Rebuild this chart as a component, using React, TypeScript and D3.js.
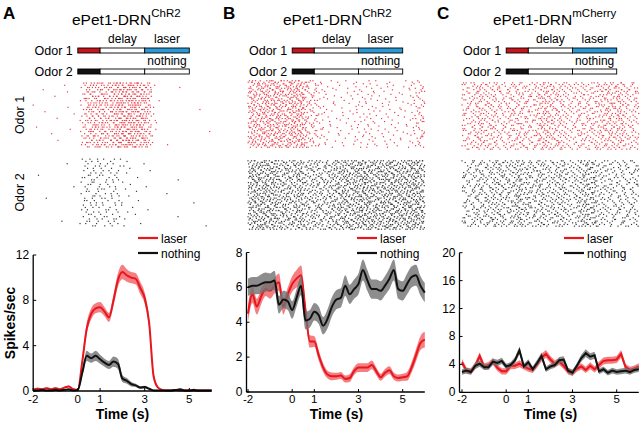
import React from "react";
import * as d3 from "d3";

// ---------- data (time in s, rates in spikes/sec) ----------
const TIME = d3.range(41).map((i) => -2 + i * 0.2);
const X_TICKS = [-2, 0, 1, 3, 5];
const Y_TICKS_A = [0, 4, 8, 12];
const Y_TICKS_B = [0, 2, 4, 6, 8];
const Y_TICKS_C = [0, 4, 8, 12, 16, 20];
const LEGEND = ["laser", "nothing"];
const ODORS = ["Odor 1", "Odor 2"];
const EPOCHS = ["delay", "laser", "nothing"];

const LASER_A = [0.1, 0.2, 0.15, 0.25, 0.15, 0.25, 0.15, 0.3, 0.4, 0.15,
  0.1, 2.6, 5.5, 6.8, 7.3, 7.4, 7.0, 6.5, 8.0, 9.8,
  10.5, 10.2, 10.0, 9.9, 9.1, 8.2, 6.0, 1.3, 0.3, 0.1,
  0.05, 0.05, 0.08, 0.05, 0.05, 0.05, 0.05, 0.05, 0.05, 0.05, 0.05];
const LASER_SEM_A = [0.08, 0.08, 0.08, 0.08, 0.08, 0.08, 0.08, 0.08, 0.08, 0.08,
  0.1, 0.4, 0.5, 0.5, 0.45, 0.45, 0.4, 0.4, 0.5, 0.6,
  0.65, 0.55, 0.5, 0.5, 0.55, 0.5, 0.45, 0.3, 0.1, 0.05,
  0.05, 0.05, 0.05, 0.05, 0.05, 0.05, 0.05, 0.05, 0.05, 0.05, 0.05];
const NOTHING_A = [0.05, 0.05, 0.1, 0.05, 0.05, 0.1, 0.05, 0.1, 0.15, 0.05,
  0.1, 1.6, 3.1, 2.9, 3.1, 2.8, 2.5, 2.3, 2.6, 2.4,
  1.1, 0.9, 0.6, 0.5, 0.3, 0.35, 0.2, 0.05, 0.05, 0.05,
  0.05, 0.05, 0.1, 0.15, 0.05, 0.05, 0.1, 0.05, 0.05, 0.05, 0.05];
const NOTHING_SEM_A = [0.05, 0.05, 0.05, 0.05, 0.05, 0.05, 0.05, 0.05, 0.05, 0.05,
  0.05, 0.3, 0.45, 0.4, 0.45, 0.4, 0.35, 0.35, 0.45, 0.45,
  0.3, 0.25, 0.2, 0.15, 0.12, 0.12, 0.08, 0.05, 0.05, 0.05,
  0.05, 0.05, 0.05, 0.05, 0.05, 0.05, 0.05, 0.05, 0.05, 0.05, 0.05];

const LASER_B = [4.5, 5.6, 4.9, 5.5, 5.9, 5.8, 6.1, 6.3, 4.9, 5.6,
  6.2, 6.5, 6.7, 4.7, 2.9, 2.9, 2.1, 1.4, 1.0, 0.9,
  0.9, 0.95, 0.75, 0.8, 1.2, 1.4, 1.4, 1.4, 1.55, 1.2,
  0.85, 1.1, 1.25, 0.9, 0.8, 0.85, 0.9, 1.4, 2.1, 2.8, 3.0];
const LASER_SEM_B = [0.5, 0.5, 0.45, 0.45, 0.4, 0.45, 0.45, 0.5, 0.45, 0.4,
  0.45, 0.5, 0.55, 0.45, 0.35, 0.3, 0.3, 0.25, 0.22, 0.22,
  0.2, 0.2, 0.2, 0.22, 0.22, 0.25, 0.25, 0.25, 0.25, 0.22,
  0.2, 0.22, 0.22, 0.2, 0.2, 0.2, 0.25, 0.3, 0.35, 0.4, 0.45];
const NOTHING_B = [6.0, 6.1, 6.1, 6.2, 6.3, 6.3, 6.4, 5.0, 5.3, 5.2,
  4.7, 5.4, 6.1, 4.1, 4.2, 4.6, 4.4, 3.8, 4.2, 4.9,
  5.3, 5.4, 6.1, 5.6, 5.9, 6.2, 7.0, 6.4, 5.9, 5.9,
  5.8, 6.1, 6.5, 7.0, 5.9, 5.8, 6.2, 6.6, 6.7, 6.1, 5.7];
const NOTHING_SEM_B = [0.5, 0.5, 0.5, 0.55, 0.55, 0.5, 0.55, 0.5, 0.5, 0.5,
  0.5, 0.5, 0.55, 0.5, 0.5, 0.5, 0.5, 0.5, 0.55, 0.55,
  0.55, 0.55, 0.6, 0.55, 0.55, 0.6, 0.6, 0.6, 0.55, 0.55,
  0.55, 0.55, 0.6, 0.6, 0.55, 0.55, 0.6, 0.6, 0.6, 0.55, 0.55];

const LASER_C = [4.3, 3.1, 3.0, 3.8, 5.2, 3.7, 3.9, 4.4, 3.5, 3.0,
  3.0, 3.8, 3.8, 4.1, 3.7, 3.4, 3.2, 4.0, 5.0, 5.5,
  4.7, 4.1, 4.4, 3.8, 3.0, 2.8, 3.4, 3.7, 3.2, 3.8,
  3.3, 3.9, 4.5, 4.6, 4.6, 4.7, 5.5, 3.6, 3.2, 3.4, 3.7];
const LASER_SEM_C = [0.5, 0.45, 0.45, 0.5, 0.55, 0.45, 0.45, 0.5, 0.45, 0.45,
  0.45, 0.5, 0.45, 0.5, 0.45, 0.45, 0.45, 0.5, 0.55, 0.55,
  0.5, 0.5, 0.5, 0.45, 0.45, 0.45, 0.45, 0.45, 0.45, 0.5,
  0.45, 0.5, 0.5, 0.5, 0.5, 0.5, 0.55, 0.45, 0.45, 0.45, 0.45];
const NOTHING_C = [2.9, 3.1, 2.9, 3.8, 4.1, 3.6, 3.6, 4.4, 4.2, 4.5,
  3.7, 3.9, 4.6, 6.0, 3.7, 4.3, 3.3, 4.2, 5.2, 3.3,
  3.7, 3.9, 4.6, 4.7, 3.1, 2.8, 3.8, 4.9, 5.6, 5.1,
  5.3, 3.0, 3.3, 2.8, 3.1, 2.9, 3.0, 3.1, 2.9, 3.2, 3.3];
const NOTHING_SEM_C = [0.4, 0.4, 0.4, 0.45, 0.45, 0.4, 0.4, 0.45, 0.45, 0.45,
  0.4, 0.4, 0.45, 0.55, 0.4, 0.45, 0.4, 0.45, 0.5, 0.4,
  0.4, 0.4, 0.45, 0.45, 0.4, 0.4, 0.4, 0.5, 0.55, 0.5,
  0.5, 0.4, 0.4, 0.4, 0.4, 0.4, 0.4, 0.4, 0.4, 0.4, 0.4];

// ---------- styling ----------
const FONT = "'Liberation Sans', Arial, Helvetica, sans-serif";
const RED = "#e8161d";
const RED_BAND = "#f2676c";
const GRAY_BAND = "#707070";
const BLACK = "#111111";
const ODOR_RED = "#c8141c";
const LASER_BLUE = "#2b9ad6";
const DOT_RED = "#e5404a";
const DOT_BLACK = "#3a3a3a";

type PanelCfg = {
  letter: string;
  letterX: number;
  sup: string;
  titleX: number;
  xr: [number, number];
  axisX: number;
  yMax: number;
  yr: [number, number];
  yTicks: number[];
  laser: number[];
  laserSem: number[];
  nothing: number[];
  nothingSem: number[];
  nTrials: number;
  raster1: [number, number];
  raster2: [number, number];
  legendX: number;
  linear: boolean;
  yLabel: boolean;
  odorSide: boolean;
};

// Halton low-discrepancy sequence (deterministic, evenly spread)
function halton(index: number, base: number) {
  let f = 1, r = 0, i = index;
  while (i > 0) {
    f /= base;
    r += f * (i % base);
    i = Math.floor(i / base);
  }
  return r;
}

// Spike rasters: dots spread evenly over the trials, with density set by the PSTH rate read above
function makeRaster(rates: number[], nTrials: number, seed: number) {
  const dt = 0.2;
  const dots: { t: number; row: number }[] = [];
  let acc = 0.5;
  let idx = 1 + seed;
  rates.forEach((r, i) => {
    acc += r * dt * nTrials;
    const n = Math.floor(acc);
    acc -= n;
    for (let k = 0; k < n; k++, idx++) {
      const t = TIME[i] - dt / 2 + dt * halton(idx, 2);
      const row = Math.floor(halton(idx, 3) * nTrials);
      if (t >= -2 && t <= 6) dots.push({ t, row });
    }
  });
  return dots;
}

function Panel({ c }: { c: PanelCfg }) {
  const x = d3.scaleLinear().domain([-2, 6]).range(c.xr);
  const y = d3.scaleLinear().domain([0, c.yMax]).range(c.yr);
  const curve = c.linear ? d3.curveLinear : d3.curveMonotoneX;
  const line = (vals: number[]) =>
    d3.line<number>().x((_, i) => x(TIME[i])).y((v) => y(v)).curve(curve)(vals) || "";
  const area = (vals: number[], sem: number[]) =>
    d3
      .area<number>()
      .x((_, i) => x(TIME[i]))
      .y0((v, i) => y(Math.max(0, v - sem[i])))
      .y1((v, i) => y(v + sem[i]))
      .curve(curve)(vals) || "";

  const r1 = makeRaster(c.laser, c.nTrials, 0);
  const r2 = makeRaster(c.nothing, c.nTrials, 500);
  const rowY = (band: [number, number], row: number) =>
    band[0] + ((row + 0.5) * (band[1] - band[0])) / c.nTrials;

  const x0 = x(0), x1 = x(1), x3 = x(3), x5 = x(5);
  const bars = [
    { yTop: 48, fill: ODOR_RED, last: LASER_BLUE, label: ODORS[0] },
    { yTop: 69, fill: BLACK, last: "#ffffff", label: ODORS[1] },
  ];

  return (
    <g>
      <text x={c.letterX} y={19} fontSize={17} fontWeight="bold" fill="#000">{c.letter}</text>
      <text x={c.titleX} y={25} fontSize={15.5} fill="#000">
        ePet1-DRN<tspan dy={-8} fontSize={11.5}>{c.sup}</tspan>
      </text>

      {/* odor schematic */}
      <text x={(x1 + x3) / 2} y={43} fontSize={12} textAnchor="middle">{EPOCHS[0]}</text>
      <text x={(x3 + x5) / 2} y={43} fontSize={12} textAnchor="middle">{EPOCHS[1]}</text>
      <text x={(x3 + x5) / 2} y={65} fontSize={12} textAnchor="middle">{EPOCHS[2]}</text>
      {bars.map((b, i) => (
        <g key={i}>
          <text x={x0 - 5} y={b.yTop + 7} fontSize={12.5} textAnchor="end">{b.label}</text>
          <rect x={x0} y={b.yTop} width={x1 - x0} height={5} fill={b.fill} stroke="#000" strokeWidth={0.9} />
          <rect x={x1} y={b.yTop} width={x3 - x1} height={5} fill="#fff" stroke="#000" strokeWidth={0.9} />
          <rect x={x3} y={b.yTop} width={x5 - x3} height={5} fill={b.last} stroke="#000" strokeWidth={0.9} />
        </g>
      ))}

      {/* rasters */}
      {c.odorSide && (
        <>
          <text transform={`translate(24,${(c.raster1[0] + c.raster1[1]) / 2}) rotate(-90)`} fontSize={12.5} textAnchor="middle">{ODORS[0]}</text>
          <text transform={`translate(24,${(c.raster2[0] + c.raster2[1]) / 2}) rotate(-90)`} fontSize={12.5} textAnchor="middle">{ODORS[1]}</text>
        </>
      )}
      <g fill={DOT_RED}>
        {r1.map((d, i) => (
          <rect key={i} x={x(d.t) - 0.6} y={rowY(c.raster1, d.row) - 0.6} width={1.2} height={1.2} />
        ))}
      </g>
      <g fill={DOT_BLACK}>
        {r2.map((d, i) => (
          <rect key={i} x={x(d.t) - 0.6} y={rowY(c.raster2, d.row) - 0.6} width={1.2} height={1.2} />
        ))}
      </g>

      {/* PSTH */}
      <path d={area(c.laser, c.laserSem)} fill={RED_BAND} opacity={0.85} />
      <path d={line(c.laser)} fill="none" stroke={RED} strokeWidth={2} />
      <path d={area(c.nothing, c.nothingSem)} fill={GRAY_BAND} opacity={0.8} />
      <path d={line(c.nothing)} fill="none" stroke={BLACK} strokeWidth={2} />

      {/* axes */}
      <line x1={c.axisX} x2={c.axisX} y1={c.yr[1]} y2={c.yr[0]} stroke="#000" strokeWidth={1.3} />
      <line x1={c.axisX} x2={c.xr[1]} y1={c.yr[0]} y2={c.yr[0]} stroke="#000" strokeWidth={1.3} />
      {c.yTicks.map((t) => (
        <g key={t}>
          <line x1={c.axisX} x2={c.axisX + 3} y1={y(t)} y2={y(t)} stroke="#000" strokeWidth={1} />
          <text x={c.axisX - 4} y={y(t) + 4} fontSize={12} textAnchor="end">{t}</text>
        </g>
      ))}
      {X_TICKS.map((t) => (
        <g key={t}>
          <line x1={x(t)} x2={x(t)} y1={c.yr[0]} y2={c.yr[0] - 3} stroke="#000" strokeWidth={1} />
          <text x={x(t)} y={403} fontSize={11.5} textAnchor="middle">{t < 0 ? "-" + Math.abs(t) : t}</text>
        </g>
      ))}
      <text x={(c.xr[0] + c.xr[1]) / 2} y={419} fontSize={14} fontWeight="bold" textAnchor="middle">Time (s)</text>
      {c.yLabel && (
        <text transform={`translate(15,${(c.yr[0] + c.yr[1]) / 2}) rotate(-90)`} fontSize={14} fontWeight="bold" textAnchor="middle">Spikes/sec</text>
      )}

      {/* legend */}
      <line x1={c.legendX} x2={c.legendX + 20} y1={238} y2={238} stroke={RED} strokeWidth={2.2} />
      <text x={c.legendX + 23} y={242.5} fontSize={12}>{LEGEND[0]}</text>
      <line x1={c.legendX} x2={c.legendX + 20} y1={253} y2={253} stroke={BLACK} strokeWidth={2.2} />
      <text x={c.legendX + 23} y={257.5} fontSize={12}>{LEGEND[1]}</text>
    </g>
  );
}

const PANELS: PanelCfg[] = [
  {
    letter: "A", letterX: 3, sup: "ChR2", titleX: 72, xr: [33.2, 211.6], axisX: 33.2,
    yMax: 12, yr: [391, 255], yTicks: Y_TICKS_A,
    laser: LASER_A, laserSem: LASER_SEM_A, nothing: NOTHING_A, nothingSem: NOTHING_SEM_A,
    nTrials: 30, raster1: [82, 148], raster2: [158, 227], legendX: 138, linear: false,
    yLabel: true, odorSide: true,
  },
  {
    letter: "B", letterX: 223, sup: "ChR2", titleX: 283, xr: [248, 424.8], axisX: 246.5,
    yMax: 8, yr: [392, 252.5], yTicks: Y_TICKS_B,
    laser: LASER_B, laserSem: LASER_SEM_B, nothing: NOTHING_B, nothingSem: NOTHING_SEM_B,
    nTrials: 45, raster1: [80, 148], raster2: [160, 230], legendX: 357, linear: false,
    yLabel: false, odorSide: false,
  },
  {
    letter: "C", letterX: 437, sup: "mCherry", titleX: 493, xr: [462, 638.8], axisX: 459.5,
    yMax: 20, yr: [392.3, 252.7], yTicks: Y_TICKS_C,
    laser: LASER_C, laserSem: LASER_SEM_C, nothing: NOTHING_C, nothingSem: NOTHING_SEM_C,
    nTrials: 40, raster1: [82, 150], raster2: [160, 227], legendX: 564, linear: true,
    yLabel: false, odorSide: false,
  },
];

export default function App() {
  return (
    <svg
      width={640}
      height={426}
      viewBox="0 0 640 426"
      style={{ position: "fixed", left: 0, top: 0, background: "#fff" }}
      fontFamily={FONT}
    >
      <rect width={640} height={426} fill="#fff" />
      {PANELS.map((p) => (
        <Panel key={p.letter} c={p} />
      ))}
    </svg>
  );
}
